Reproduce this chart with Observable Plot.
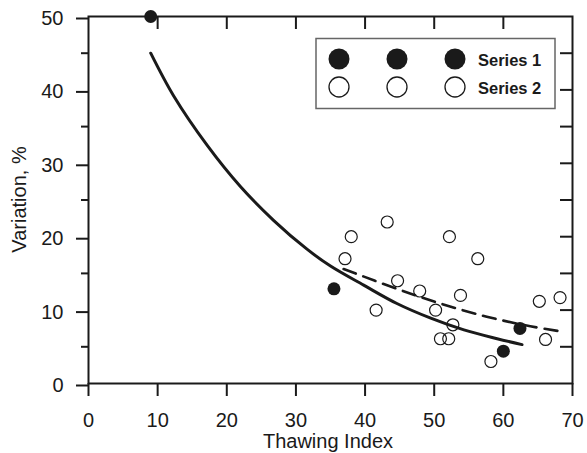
<!DOCTYPE html>
<html><head><meta charset="utf-8">
<script src="https://cdn.jsdelivr.net/npm/d3@7"></script>
<script src="https://cdn.jsdelivr.net/npm/@observablehq/plot@0.6"></script>
<style>html,body{margin:0;padding:0;background:#fff} svg{display:block}</style>
</head><body><div id="chart"></div>
<script>
// ---- data ----
const series1X = [9, 35.5, 60.0, 62.4];
const series1Y = [50, 12.9, 4.4, 7.5];
const series2X = [37.1, 38.0, 41.6, 43.2, 44.7, 47.9, 50.2, 50.9, 52.1, 52.2, 52.7, 53.8, 56.3, 58.2, 65.2, 66.1, 68.2];
const series2Y = [17.0, 20.0, 10.0, 22.0, 14.0, 12.6, 10.0, 6.1, 6.1, 20.0, 8.0, 12.0, 17.0, 3.0, 11.2, 6.0, 11.7];
const fit1X = [9, 12.3, 17.2, 22.0, 26.8, 31.6, 35.0, 39.8, 44.6, 49.5, 54.3, 59.1, 62.7];
const fit1Y = [45.0, 39.2, 32.4, 26.8, 22.2, 18.3, 16.0, 13.4, 10.9, 8.9, 7.3, 6.1, 5.3];
const fit2X = [36.9, 44.6, 50.9, 57.6, 63.9, 68.3];
const fit2Y = [15.6, 12.9, 10.9, 9.1, 7.8, 7.1];
const xTicks = [0, 10, 20, 30, 40, 50, 60, 70];
const xInnerTicks = [10, 20, 30, 40, 50, 60];
const yTicks = [0, 10, 20, 30, 40, 50];
const yMinorTicks = [5, 15, 25, 35, 45];
const yInnerTicks = [5, 10, 15, 20, 25, 30, 35, 40, 45];
const legendLabels = ["Series 1", "Series 2"];
const xTitle = "Thawing Index";
const yTitle = "Variation, %";

// ---- layout ----
const W = 587, H = 453, mL = 88, mR = 15, mT = 16, mB = 70;
const pw = W - mL - mR, ph = H - mT - mB;
const ink = "#1a1a1a";
const font = "'Liberation Sans', Arial, Helvetica, sans-serif";

const zip = (xs, ys) => xs.map((x, i) => ({x, y: ys[i]}));

const plot = Plot.plot({
  width: W, height: H,
  marginLeft: mL, marginRight: mR, marginTop: mT, marginBottom: mB,
  style: {fontFamily: font, fontSize: "20px", color: ink, background: "#fff", overflow: "visible"},
  x: {domain: [0, 70], label: null},
  y: {domain: [0, 50], label: null},
  marks: [
    Plot.axisX(xTicks, {anchor: "bottom", tickSize: 13, tickPadding: 16, strokeWidth: 2, stroke: ink, fill: ink, label: null, fontSize: 20}),
    Plot.axisY(yTicks, {anchor: "left", tickSize: 12, tickPadding: 13, strokeWidth: 2, stroke: ink, fill: ink, label: null, fontSize: 20, dy: 2}),
    Plot.ruleY(yMinorTicks, {y: d => d, insetLeft: -7, insetRight: pw, strokeWidth: 2, stroke: ink}),
    Plot.ruleY(yInnerTicks, {y: d => d, insetLeft: pw - 12, strokeWidth: 2, stroke: ink}),
    Plot.ruleX(xInnerTicks, {x: d => d, insetBottom: ph - 13, strokeWidth: 2, stroke: ink}),
    Plot.frame({stroke: ink, strokeWidth: 2}),
    Plot.line(zip(fit1X, fit1Y), {x: "x", y: "y", curve: "catmull-rom", stroke: ink, strokeWidth: 3}),
    Plot.line(zip(fit2X, fit2Y), {x: "x", y: "y", curve: "catmull-rom", stroke: ink, strokeWidth: 2.6, strokeDasharray: "13,8"}),
    Plot.dot(zip(series2X, series2Y), {x: "x", y: "y", r: 6, stroke: ink, strokeWidth: 1.2, fill: "none"}),
    Plot.dot(zip(series1X, series1Y), {x: "x", y: "y", r: 6.5, fill: ink, stroke: "none"})
  ]
});

const svg = d3.select(plot);
// axis titles
svg.append("text").attr("x", mL + pw / 2 - 2).attr("y", 448).attr("text-anchor", "middle")
  .attr("font-family", font).attr("font-size", 20).attr("fill", ink).text(xTitle);
svg.append("text").attr("transform", `translate(26,${mT + ph / 2}) rotate(-90)`).attr("text-anchor", "middle")
  .attr("font-family", font).attr("font-size", 20).attr("fill", ink).text(yTitle);

// legend
const lg = svg.append("g");
lg.append("rect").attr("x", 316).attr("y", 38.5).attr("width", 239).attr("height", 70)
  .attr("fill", "#fff").attr("stroke", "#666").attr("stroke-width", 1.5);
const symX = [339, 397, 455];
legendLabels.forEach((lab, i) => {
  const cy = 59 + i * 28;
  symX.forEach(cx => {
    lg.append("circle").attr("cx", cx).attr("cy", cy).attr("r", i === 0 ? 10.5 : 10)
      .attr("fill", i === 0 ? ink : "none").attr("stroke", ink).attr("stroke-width", i === 0 ? 0 : 1.3);
  });
  lg.append("text").attr("x", 478).attr("y", cy + 6.5).attr("text-anchor", "start").attr("font-family", font)
    .attr("font-weight", "bold").attr("font-size", 16.5).attr("fill", ink).text(lab);
});

document.getElementById("chart").appendChild(plot);
</script>
</body></html>
